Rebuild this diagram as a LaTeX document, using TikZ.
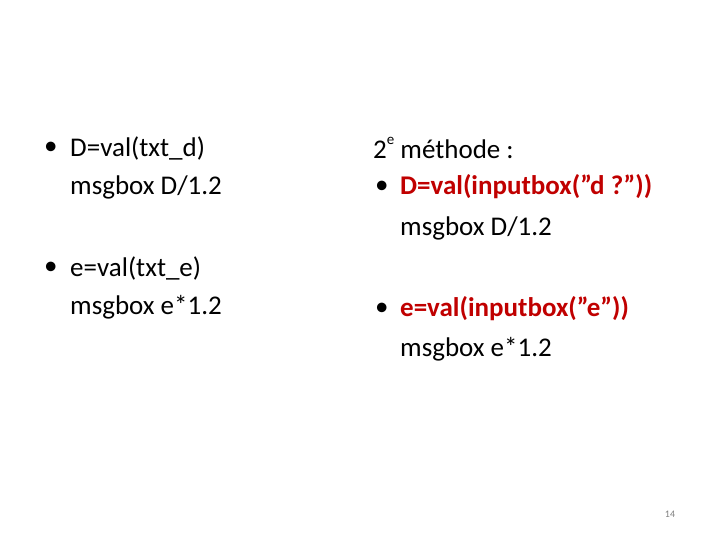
\documentclass[tikz,border=0pt]{standalone}
\usepackage{fontspec}
\setmainfont{Carlito}[Ligatures=NoCommon]
\definecolor{dred}{RGB}{192,0,0}
\newcommand{\qq}{\symbol{34}}
\begin{document}
\begin{tikzpicture}[x=1pt,y=-1pt,
  txt/.style={anchor=west,inner sep=0pt,font=\fontsize{27}{32}\selectfont},
  red/.style={txt,text=dred,font=\fontsize{27}{32}\selectfont\bfseries}]
\useasboundingbox (0,0) rectangle (720,540);
\node[txt] (b1) at (44,148) {•};
\node[txt] (l1) at (70,148) {D=val(txt\_d)};
\node[txt] (l2) at (70,187) {msgbox D/1.2};
\node[txt] (b2) at (44,268) {•};
\node[txt] (l3) at (70,268) {e=val(txt\_e)};
\node[txt] (l4) at (70,307) {msgbox e*1.2};
\node[txt] (r0) at (373,148) {2\raisebox{0.55em}{\fontsize{15}{15}\selectfont e} méthode :};
\node[txt] (b3) at (375,187) {•};
\node[red] (r1) at (400,187) {D=val(inputbox(\qq d ?\qq))};
\node[txt] (r2) at (400,228) {msgbox D/1.2};
\node[txt] (b4) at (375,309) {•};
\node[red] (r3) at (400,309) {e=val(inputbox(\qq e\qq))};
\node[txt] (r4) at (400,349) {msgbox e*1.2};
\node[anchor=center,inner sep=0pt,text=gray,font=\fontsize{10}{12}\selectfont] (pn) at (670,514) {14};
\end{tikzpicture}
\end{document}
